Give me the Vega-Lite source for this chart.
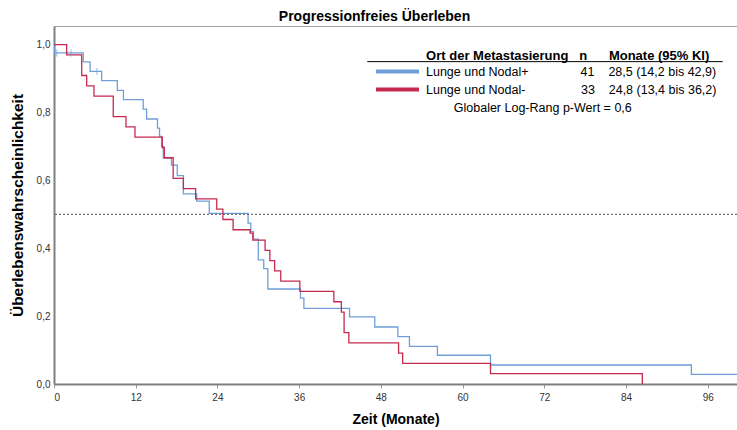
{
  "$schema": "https://vega.github.io/schema/vega-lite/v6.json",
  "width": 683,
  "height": 358,
  "autosize": {"type": "none"},
  "padding": {"left": 54, "top": 26, "right": 0, "bottom": 46},
  "background": "white",
  "title": {"text": "Progressionfreies Überleben", "fontSize": 14, "fontWeight": "bold", "font": "Liberation Sans", "color": "#000000", "anchor": "middle", "frame": "group", "dx": -21, "offset": 2},
  "config": {"view": {"stroke": "#a0a0a0", "strokeWidth": 1}, "font": "Liberation Sans"},
  "datasets": {
    "curves": [
      {"group": "Lunge und Nodal+", "t": 0, "s": 1},
      {"group": "Lunge und Nodal+", "t": 0.1, "s": 0.9756},
      {"group": "Lunge und Nodal+", "t": 4.3, "s": 0.949},
      {"group": "Lunge und Nodal+", "t": 5.3, "s": 0.921},
      {"group": "Lunge und Nodal+", "t": 7.0, "s": 0.894},
      {"group": "Lunge und Nodal+", "t": 9.3, "s": 0.865},
      {"group": "Lunge und Nodal+", "t": 10.2, "s": 0.838},
      {"group": "Lunge und Nodal+", "t": 13.1, "s": 0.810},
      {"group": "Lunge und Nodal+", "t": 13.6, "s": 0.781},
      {"group": "Lunge und Nodal+", "t": 15.2, "s": 0.754},
      {"group": "Lunge und Nodal+", "t": 15.5, "s": 0.7295},
      {"group": "Lunge und Nodal+", "t": 15.8, "s": 0.700},
      {"group": "Lunge und Nodal+", "t": 16.05, "s": 0.666},
      {"group": "Lunge und Nodal+", "t": 17.25, "s": 0.645},
      {"group": "Lunge und Nodal+", "t": 18.1, "s": 0.614},
      {"group": "Lunge und Nodal+", "t": 19.0, "s": 0.560},
      {"group": "Lunge und Nodal+", "t": 20.95, "s": 0.539},
      {"group": "Lunge und Nodal+", "t": 22.8, "s": 0.503},
      {"group": "Lunge und Nodal+", "t": 28.5, "s": 0.474},
      {"group": "Lunge und Nodal+", "t": 28.9, "s": 0.449},
      {"group": "Lunge und Nodal+", "t": 29.3, "s": 0.427},
      {"group": "Lunge und Nodal+", "t": 30.0, "s": 0.366},
      {"group": "Lunge und Nodal+", "t": 30.8, "s": 0.34},
      {"group": "Lunge und Nodal+", "t": 31.4, "s": 0.28},
      {"group": "Lunge und Nodal+", "t": 36.2, "s": 0.253},
      {"group": "Lunge und Nodal+", "t": 36.7, "s": 0.223},
      {"group": "Lunge und Nodal+", "t": 43.4, "s": 0.198},
      {"group": "Lunge und Nodal+", "t": 47.1, "s": 0.168},
      {"group": "Lunge und Nodal+", "t": 50.5, "s": 0.1395},
      {"group": "Lunge und Nodal+", "t": 52.2, "s": 0.111},
      {"group": "Lunge und Nodal+", "t": 56.3, "s": 0.0847},
      {"group": "Lunge und Nodal+", "t": 64.1, "s": 0.056},
      {"group": "Lunge und Nodal+", "t": 93.6, "s": 0.0286},
      {"group": "Lunge und Nodal+", "t": 100.3, "s": 0.0286},
      {"group": "Lunge und Nodal-", "t": 0, "s": 1},
      {"group": "Lunge und Nodal-", "t": 1.86, "s": 0.9697},
      {"group": "Lunge und Nodal-", "t": 4.07, "s": 0.9091},
      {"group": "Lunge und Nodal-", "t": 4.8, "s": 0.8788},
      {"group": "Lunge und Nodal-", "t": 5.87, "s": 0.8485},
      {"group": "Lunge und Nodal-", "t": 8.7, "s": 0.7879},
      {"group": "Lunge und Nodal-", "t": 10.57, "s": 0.7576},
      {"group": "Lunge und Nodal-", "t": 11.89, "s": 0.7273},
      {"group": "Lunge und Nodal-", "t": 15.9, "s": 0.6970},
      {"group": "Lunge und Nodal-", "t": 16.2, "s": 0.6667},
      {"group": "Lunge und Nodal-", "t": 17.5, "s": 0.6061},
      {"group": "Lunge und Nodal-", "t": 19.0, "s": 0.5758},
      {"group": "Lunge und Nodal-", "t": 20.8, "s": 0.5455},
      {"group": "Lunge und Nodal-", "t": 23.9, "s": 0.5152},
      {"group": "Lunge und Nodal-", "t": 24.8, "s": 0.4848},
      {"group": "Lunge und Nodal-", "t": 26.3, "s": 0.4545},
      {"group": "Lunge und Nodal-", "t": 28.8, "s": 0.4445},
      {"group": "Lunge und Nodal-", "t": 29.2, "s": 0.4242},
      {"group": "Lunge und Nodal-", "t": 31.0, "s": 0.3939},
      {"group": "Lunge und Nodal-", "t": 31.7, "s": 0.3636},
      {"group": "Lunge und Nodal-", "t": 32.4, "s": 0.3333},
      {"group": "Lunge und Nodal-", "t": 33.3, "s": 0.3030},
      {"group": "Lunge und Nodal-", "t": 36.1, "s": 0.2727},
      {"group": "Lunge und Nodal-", "t": 41.1, "s": 0.2424},
      {"group": "Lunge und Nodal-", "t": 42.2, "s": 0.2121},
      {"group": "Lunge und Nodal-", "t": 42.6, "s": 0.1515},
      {"group": "Lunge und Nodal-", "t": 43.3, "s": 0.1212},
      {"group": "Lunge und Nodal-", "t": 50.6, "s": 0.0909},
      {"group": "Lunge und Nodal-", "t": 51.2, "s": 0.0606},
      {"group": "Lunge und Nodal-", "t": 64.1, "s": 0.0303},
      {"group": "Lunge und Nodal-", "t": 86.4, "s": 0}
    ],
    "censors": [
      {"group": "Lunge und Nodal+", "t": 0.4, "s": 0.9756},
      {"group": "Lunge und Nodal+", "t": 2.5, "s": 0.9756},
      {"group": "Lunge und Nodal+", "t": 6.3, "s": 0.921}
    ]
  },
  "layer": [
    {
      "data": {"name": "curves"},
      "mark": {"type": "line", "interpolate": "step-after", "strokeWidth": 1.3, "clip": true},
      "encoding": {
        "x": {
          "field": "t", "type": "quantitative",
          "scale": {"domain": [0, 100.3], "nice": false, "zero": false},
          "axis": {
            "title": "Zeit (Monate)", "values": [0, 12, 24, 36, 48, 60, 72, 84, 96],
            "grid": false, "labelFontSize": 10, "labelColor": "#333333", "labelFont": "Liberation Sans",
            "tickSize": 4, "tickColor": "#999999", "domainColor": "#808080", "domainWidth": 2,
            "labelPadding": 4, "titleFontSize": 14, "titleFontWeight": "bold", "titleColor": "#000000",
            "titleFont": "Liberation Sans", "titlePadding": 10
          }
        },
        "y": {
          "field": "s", "type": "quantitative",
          "scale": {"domain": [0, 1.055], "nice": false},
          "axis": {
            "title": "Überlebenswahrscheinlichkeit", "values": [0, 0.2, 0.4, 0.6, 0.8, 1.0],
            "labelExpr": "replace(format(datum.value, '.1f'), '.', ',')",
            "grid": false, "ticks": false, "labelFontSize": 10, "labelColor": "#333333", "labelFont": "Liberation Sans",
            "domainColor": "#808080", "domainWidth": 2, "labelPadding": 4,
            "titleFontSize": 15.5, "titleFontWeight": "bold", "titleColor": "#000000", "titleFont": "Liberation Sans",
            "titlePadding": 11
          }
        },
        "color": {
          "field": "group", "type": "nominal",
          "scale": {"domain": ["Lunge und Nodal+", "Lunge und Nodal-", "p"], "range": ["#6f9fd8", "#c62a4e", "rgba(0,0,0,0)"]},
          "legend": {
            "title": "\u200b\u00a0\u00a0\u00a0\u00a0\u00a0\u00a0\u00a0\u00a0\u00a0\u00a0Ort der Metastasierung\u00a0\u00a0\u00a0n\u00a0\u00a0\u00a0\u00a0\u00a0\u00a0Monate (95% KI)",
            "orient": "none", "legendX": 336, "legendY": 24,
            "symbolType": "M-4,0H4", "symbolSize": 115.6, "symbolStrokeWidth": 4,
            "labelExpr": "datum.value === 'Lunge und Nodal+' ? 'Lunge und Nodal+\u00a0\u00a0\u00a0\u00a0\u00a0\u00a0\u00a0\u00a0\u00a0\u00a0\u00a0\u00a0\u00a0\u00a0\u00a041\u00a0\u00a0\u00a0\u00a028,5 (14,2 bis 42,9)' : datum.value === 'Lunge und Nodal-' ? 'Lunge und Nodal-\u00a0\u00a0\u00a0\u00a0\u00a0\u00a0\u00a0\u00a0\u00a0\u00a0\u00a0\u00a0\u00a0\u00a0\u00a0\u00a033\u00a0\u00a0\u00a0\u00a024,8 (13,4 bis 36,2)' : '\u200b\u00a0\u00a0\u00a0\u00a0\u00a0\u00a0\u00a0\u00a0Globaler Log-Rang p-Wert = 0,6'",
            "labelFont": "Liberation Sans", "labelFontSize": 12.5, "labelColor": "#000000", "labelLimit": 500,
            "titleFont": "Liberation Sans", "titleFontSize": 13, "titleFontWeight": "bold", "titleColor": "#000000", "titleLimit": 500,
            "titlePadding": 1, "rowPadding": 1, "labelOffset": 21, "symbolOffset": 0, "padding": 0
          }
        }
      }
    },
    {
      "data": {"name": "censors"},
      "mark": {"type": "tick", "orient": "vertical", "size": 7, "thickness": 1, "color": "#6f9fd8"},
      "encoding": {
        "x": {"field": "t", "type": "quantitative"},
        "y": {"field": "s", "type": "quantitative"}
      }
    },
    {
      "data": {"values": [{}]},
      "mark": {"type": "rule", "strokeDash": [2, 2], "color": "#555555", "strokeWidth": 1},
      "encoding": {"y": {"datum": 0.5}}
    },
    {
      "data": {"values": [{}]},
      "mark": {"type": "rule", "color": "#000000", "strokeWidth": 1},
      "encoding": {"x": {"datum": 46}, "x2": {"datum": 98.2}, "y": {"datum": 0.95}}
    }
  ]
}
